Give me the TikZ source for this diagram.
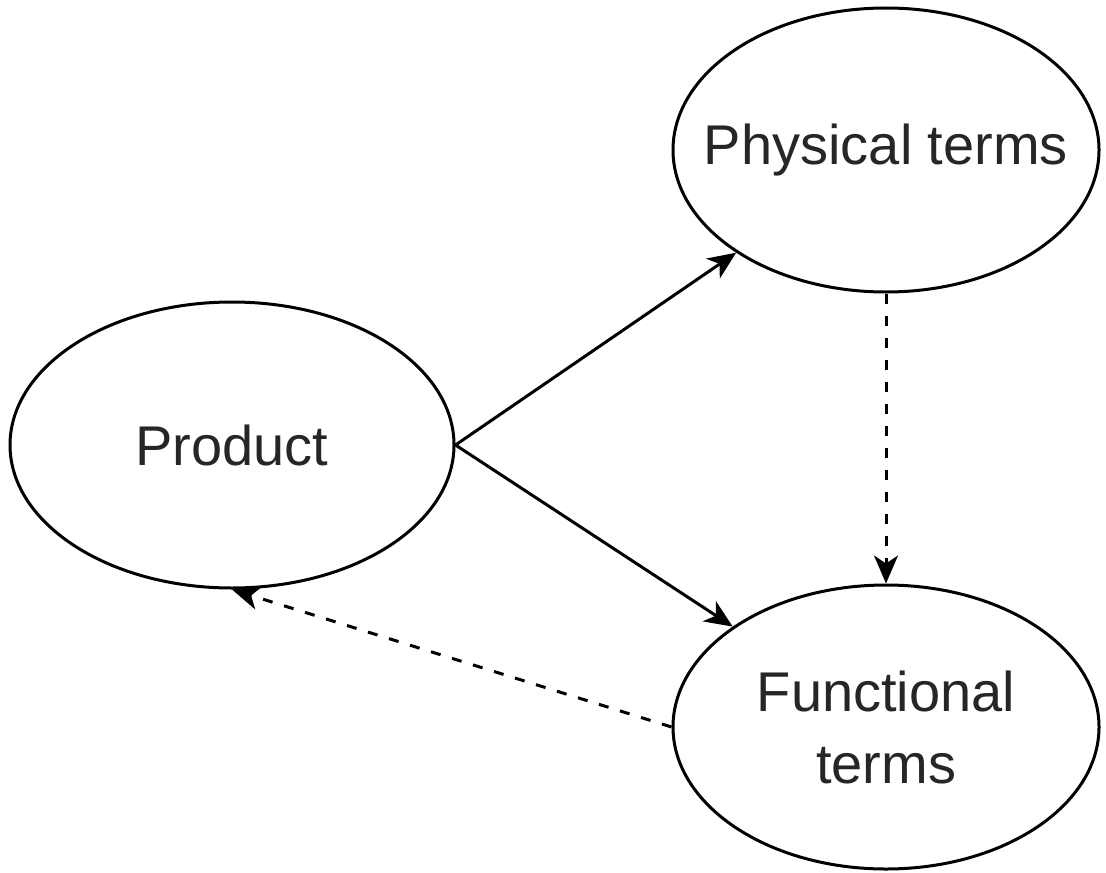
\documentclass[tikz,border=0pt]{standalone}
\usepackage{fontspec}
\setmainfont{Liberation Sans}
\usetikzlibrary{shapes.geometric,arrows.meta}
\begin{document}
\begin{tikzpicture}[x=0.5pt,y=-0.5pt,
  term/.style={ellipse,draw=black,line width=1.5pt,inner sep=0pt,
    align=center,text=black!85,font=\fontsize{28}{36}\selectfont},
  link/.style={line width=1.5pt,-{Stealth[length=14pt,width=12pt,inset=4pt]}},
  loose/.style={link,dash pattern=on 5pt off 6pt}]
  \useasboundingbox (0,0) rectangle (1106,872);
  \fill[white] (0,0) rectangle (1106,872);
  \node[term,minimum width=222pt,minimum height=143pt] (prod) at (232,445) {Product};
  \node[term,inner xsep=-25pt,minimum width=213pt,minimum height=142pt] (phys) at (886,150) {Physical terms};
  \node[term,minimum width=213pt,minimum height=142pt] (func) at (886,727) {Functional\\terms};
  \draw[link] (prod.east) -- (phys);
  \draw[link] (prod.east) -- (func);
  \draw[loose] (phys.south) -- (func.north);
  \draw[loose] (func.west) -- (prod.south);
\end{tikzpicture}
\end{document}
